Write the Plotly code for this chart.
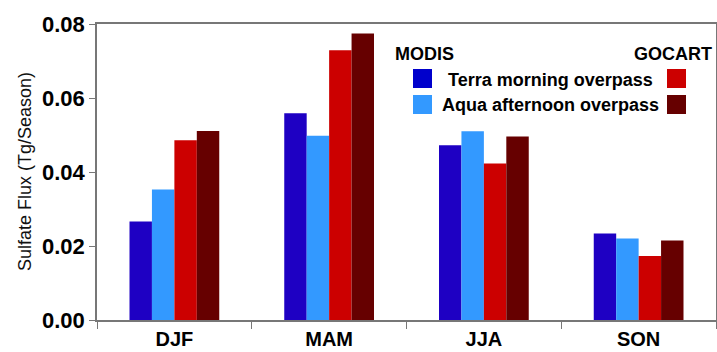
import plotly.graph_objects as go

seasons = ["DJF", "MAM", "JJA", "SON"]
modis_terra = [0.0266, 0.0559, 0.0472, 0.0234]
modis_aqua = [0.0353, 0.0498, 0.0510, 0.0220]
gocart_terra = [0.0486, 0.0729, 0.0423, 0.0173]
gocart_aqua = [0.0511, 0.0774, 0.0496, 0.0215]
y_ticks = [0.00, 0.02, 0.04, 0.06, 0.08]
y_tick_labels = ["0.00", "0.02", "0.04", "0.06", "0.08"]

C_BLUE = "#1E00C3"
C_LBLUE = "#3399FF"
C_RED = "#CC0000"
C_DRED = "#660000"

W, H = 717, 352
ML, MR, MT, MB = 97, 1, 24, 32
PW, PH = W - ML - MR, H - MT - MB

def px(x):
    return (x - ML) / PW

def py(y):
    return (H - MB - y) / PH

fig = go.Figure()
for vals, col in [(modis_terra, C_BLUE), (modis_aqua, C_LBLUE),
                  (gocart_terra, C_RED), (gocart_aqua, C_DRED)]:
    fig.add_trace(go.Bar(x=seasons, y=vals, marker=dict(color=col, line=dict(width=0)),
                         showlegend=False))

FONT = "Liberation Sans, Arial, sans-serif"

shapes = []
for (x0, y0, col) in [(413, 69, "#0000CC"), (413, 95, C_LBLUE), (667, 69, C_RED), (667, 95, C_DRED)]:
    shapes.append(dict(type="rect", xref="paper", yref="paper",
                       x0=px(x0), x1=px(x0 + 19), y0=py(y0 + 19), y1=py(y0),
                       fillcolor=col, line=dict(width=0)))

annots = [
    dict(text="<b>MODIS</b>", x=px(393), y=py(54), xanchor="left", yanchor="middle"),
    dict(text="<b>GOCART</b>", x=px(714), y=py(54), xanchor="right", yanchor="middle"),
    dict(text="<b>Terra morning overpass</b>", x=px(550), y=py(80), xanchor="center", yanchor="middle"),
    dict(text="<b>Aqua afternoon overpass</b>", x=px(550), y=py(105), xanchor="center", yanchor="middle"),
]
annotations = []
for a in annots:
    a.update(xref="paper", yref="paper", showarrow=False,
             font=dict(family=FONT, size=18, color="#000"))
    annotations.append(a)
annotations.append(dict(text="Sulfate Flux (Tg/Season)", xref="paper", yref="paper",
                        x=px(25), y=0.5, xanchor="center", yanchor="middle", textangle=-90,
                        showarrow=False, font=dict(family=FONT, size=18, color="#111")))

fig.update_layout(
    width=W, height=H,
    margin=dict(l=ML, r=MR, t=MT, b=MB, autoexpand=False),
    paper_bgcolor="white", plot_bgcolor="white",
    barmode="group", bargap=0.42, bargroupgap=0,
    shapes=shapes, annotations=annotations,
    font=dict(family=FONT, color="#000"),
    xaxis=dict(type="category", tickson="boundaries", ticks="outside", ticklen=7,
               tickcolor="#777", showline=True, linecolor="#777", linewidth=1.5, mirror=True,
               showgrid=False, tickfont=dict(family=FONT, size=20, color="#000"),
               tickprefix="<b>", ticksuffix="</b>", range=[-0.5, 3.5]),
    yaxis=dict(range=[0, 0.08], tickvals=y_ticks, ticktext=["<b>%s</b>" % t for t in y_tick_labels],
               ticks="outside", ticklen=6, tickcolor="#777", showline=True, linecolor="#777",
               linewidth=1.5, mirror=True, showgrid=False, zeroline=False,
               tickfont=dict(family=FONT, size=22, color="#000")),
)

fig.write_html("out.html", config={"displayModeBar": False},
               post_script="document.body.style.margin='0';document.body.style.overflow='hidden';")
